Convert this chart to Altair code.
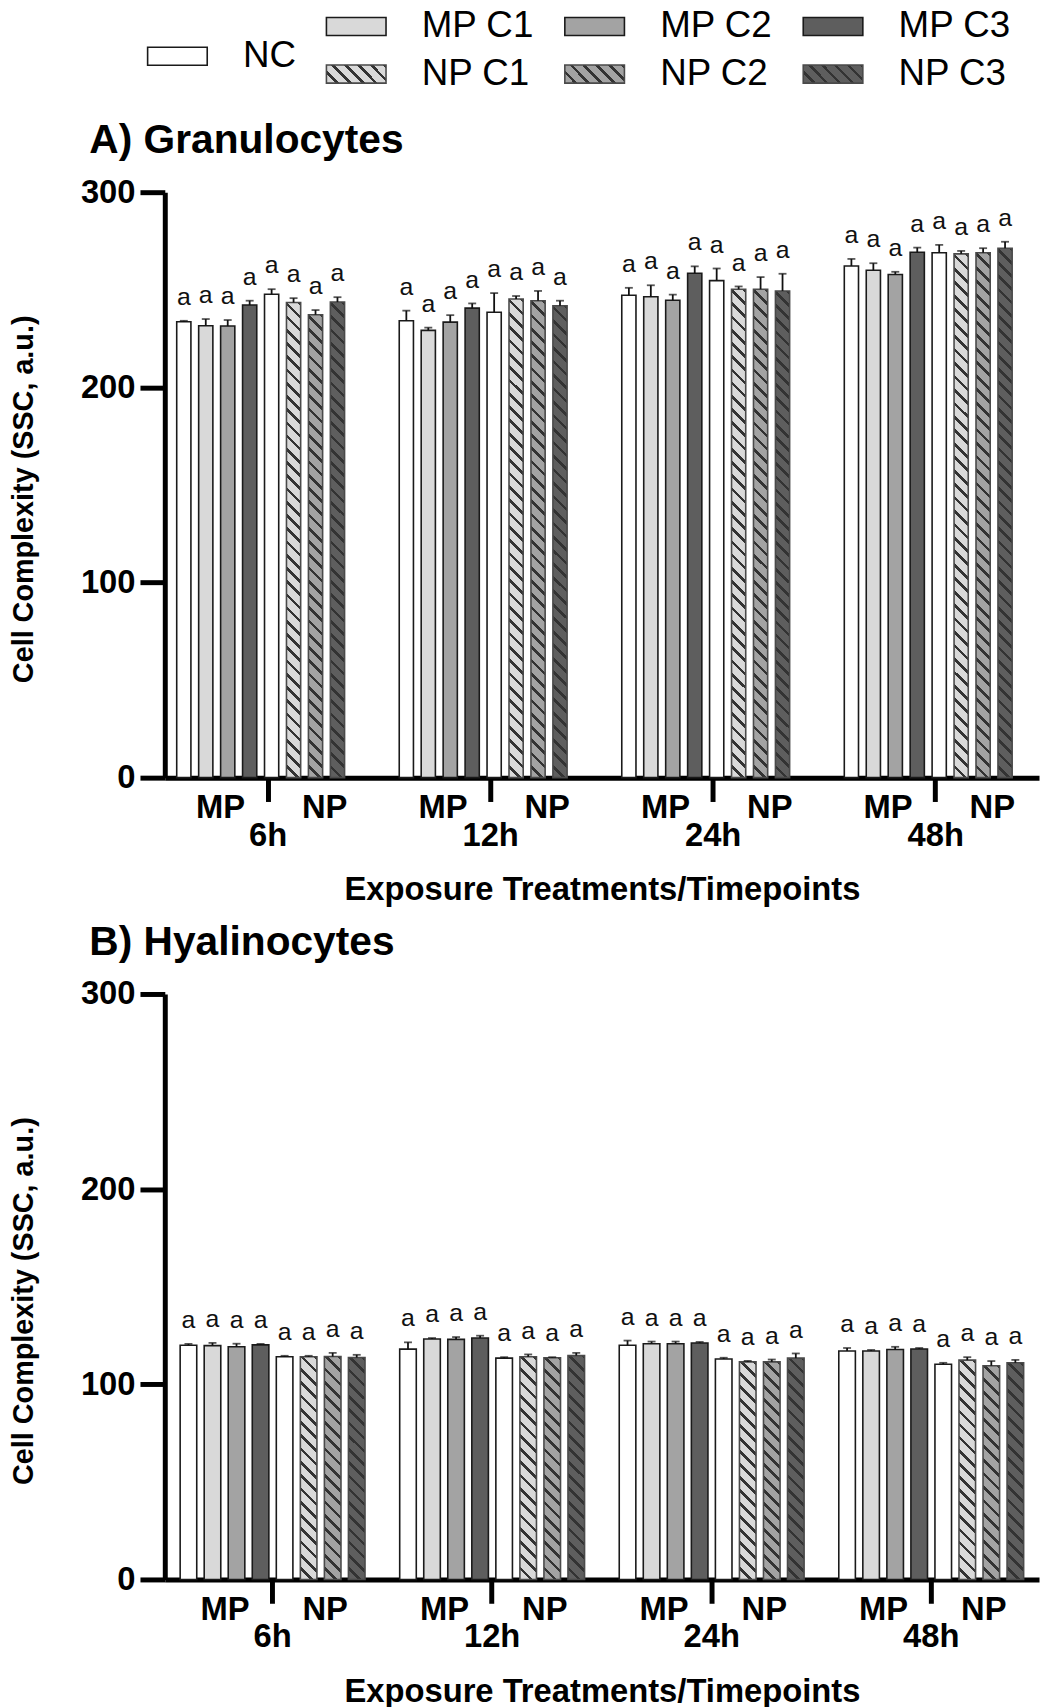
import math
import altair as alt
import pandas as pd

# ---------------- data ----------------
timepoints = ["6h", "12h", "24h", "48h"]
slots = ["MP NC", "MP C1", "MP C2", "MP C3", "NP NC", "NP C1", "NP C2", "NP C3"]
slot_conc = ["NC", "C1", "C2", "C3", "NC", "C1", "C2", "C3"]
slot_particle = ["MP", "MP", "MP", "MP", "NP", "NP", "NP", "NP"]
letters = ["a"] * 8

# A) Granulocytes: mean and upper SD (SSC, a.u.)
gran_6h = [233.6, 231.6, 231.4, 242.2, 247.7, 243.5, 237.2, 243.7]
gran_6h_sd = [0.5, 3.4, 3.1, 2.2, 2.6, 2.2, 2.4, 2.5]
gran_12h = [234.1, 229.2, 233.4, 240.6, 238.5, 245.3, 244.4, 241.8]
gran_12h_sd = [5.2, 1.4, 3.6, 2.4, 9.8, 1.5, 5.0, 2.6]
gran_24h = [247.2, 246.4, 244.6, 258.5, 254.7, 250.3, 250.3, 249.4]
gran_24h_sd = [3.8, 5.9, 2.9, 3.5, 6.2, 1.4, 6.2, 8.8]
gran_48h = [262.2, 260.0, 257.8, 269.2, 269.0, 268.4, 269.0, 271.3]
gran_48h_sd = [3.6, 3.6, 1.4, 2.4, 4.0, 1.5, 2.3, 3.3]

# B) Hyalinocytes
hyal_6h = [120.0, 119.8, 119.2, 120.2, 114.1, 114.1, 114.2, 113.7]
hyal_6h_sd = [0.7, 1.4, 1.6, 0.5, 0.5, 0.5, 1.9, 1.4]
hyal_12h = [118.0, 123.2, 123.0, 123.7, 113.4, 114.1, 113.6, 114.7]
hyal_12h_sd = [3.5, 0.5, 1.2, 1.2, 0.5, 1.2, 0.3, 1.4]
hyal_24h = [120.0, 120.8, 120.8, 121.2, 113.0, 111.5, 111.5, 113.4]
hyal_24h_sd = [2.4, 1.1, 1.1, 0.5, 0.6, 0.5, 1.2, 2.4]
hyal_48h = [117.1, 117.1, 117.8, 118.1, 110.3, 112.4, 109.5, 111.0]
hyal_48h_sd = [1.5, 0.5, 1.4, 0.5, 0.7, 1.5, 2.4, 1.5]

legend_labels = ["NC", "MP C1", "MP C2", "MP C3", "NP C1", "NP C2", "NP C3"]
legend_conc = ["NC", "C1", "C2", "C3", "C1", "C2", "C3"]
legend_hatched = [False, False, False, False, True, True, True]

# ---------------- style ----------------
FONT = "Liberation Sans"
PLOT_W = 881
PLOT_H = 590
Y_MAX = 300
conc_colors = {"NC": "#ffffff", "C1": "#d9d9d9", "C2": "#a3a3a3", "C3": "#5e5e5e"}
HATCH_LINE = "#333333"


def hatch(bg, line, w, h, period=9.5, frac=0.28):
    """Linear gradient with hard stops that draws '\\' diagonal stripes."""
    h = max(h, 1.0)
    diag = (w + h) / math.sqrt(2)
    n = max(1, int(round(diag / period)))
    t = (w + h) / (w * w + h * h)
    stops = []
    for k in range(n):
        a = k / n
        b = (k + 1 - frac) / n
        c = (k + 1) / n
        stops += [
            {"offset": a, "color": bg},
            {"offset": b, "color": bg},
            {"offset": b, "color": line},
            {"offset": c, "color": line},
        ]
    return {"gradient": "linear", "x1": 0, "y1": 1, "x2": t * w, "y2": 1 - t * h,
            "stops": stops}


def panel_frame(means, sds, bar_w):
    rows = []
    for tp, m_list, s_list in zip(timepoints, means, sds):
        for i, slot in enumerate(slots):
            m, s = m_list[i], s_list[i]
            c, p = slot_conc[i], slot_particle[i]
            hatched = p == "NP" and c != "NC"
            fill = hatch(conc_colors[c], HATCH_LINE, bar_w, m / Y_MAX * PLOT_H) if hatched else conc_colors[c]
            rows.append({
                "time": tp, "slot": slot, "mean": m, "hi": m + s,
                "fill": fill, "stroke": "#4a4a4a" if hatched else "#1a1a1a",
                "letter": letters[i],
            })
    return pd.DataFrame(rows)


def make_panel(df, title, xs, xos, mp_dx, np_dx):
    x_enc = alt.X("time:N", sort=timepoints, scale=xs,
                  axis=alt.Axis(title="Exposure Treatments/Timepoints", labelAngle=0,
                                labelFontSize=33, labelFontWeight="bold", labelBaseline="alphabetic",
                                labelPadding=44, tickSize=24, tickWidth=5, tickColor="black",
                                domainWidth=5, domainColor="black", labelColor="black",
                                titleFontSize=33, titleFontWeight="bold", titleColor="black",
                                titleY=123, titleBaseline="alphabetic"))
    xo_enc = alt.XOffset("slot:N", sort=slots, scale=xos)
    y_enc = alt.Y("mean:Q", scale=alt.Scale(domain=[0, Y_MAX], nice=False, zero=True),
                  axis=alt.Axis(values=[0, 100, 200, 300], title="Cell Complexity (SSC, a.u.)",
                                grid=False, labelFontSize=33, labelFontWeight="bold",
                                labelColor="black", labelPadding=5, tickSize=25, tickWidth=5,
                                tickColor="black", domainWidth=5, domainColor="black",
                                titleFontSize=29, titleFontWeight="bold", titleColor="black",
                                titleX=-142, titleY=309, titleBaseline="middle"))

    base = alt.Chart(df)
    xs_plain = alt.X("time:N", sort=timepoints)
    xo_plain = alt.XOffset("slot:N", sort=slots)
    bars = base.mark_bar(strokeWidth=1.6).encode(
        x=x_enc, xOffset=xo_enc, y=y_enc,
        fill=alt.Fill("fill:N", scale=None),
        stroke=alt.Stroke("stroke:N", scale=None),
    )
    err = base.mark_rule(color="#111111", strokeWidth=1.8).encode(
        x=xs_plain, xOffset=xo_plain, y="mean:Q", y2="hi:Q",
    )
    caps = base.mark_tick(color="#111111", orient="horizontal", size=8, thickness=1.8).encode(
        x=xs_plain, xOffset=xo_plain, y="hi:Q",
    )
    lett = base.mark_text(fontSize=25, baseline="alphabetic", dy=-16, color="#111111").encode(
        x=xs_plain, xOffset=xo_plain, y="hi:Q", text="letter:N",
    )
    lab_df = pd.DataFrame({"time": timepoints})
    mp_lab = alt.Chart(lab_df).mark_text(
        text="MP", fontSize=33, fontWeight="bold", baseline="middle", dx=mp_dx, color="black"
    ).encode(x=xs_plain, y=alt.value(PLOT_H + 31))
    np_lab = alt.Chart(lab_df).mark_text(
        text="NP", fontSize=33, fontWeight="bold", baseline="middle", dx=np_dx, color="black"
    ).encode(x=xs_plain, y=alt.value(PLOT_H + 31))
    return alt.layer(bars, err, caps, lett, mp_lab, np_lab).properties(
        width=PLOT_W, height=PLOT_H,
        title=alt.TitleParams(text=title, anchor="start", frame="group", dx=-76, offset=-18,
                              fontSize=41, fontWeight="bold", baseline="alphabetic",
                              color="black", font=FONT),
    )


# panel A: narrower bars, packed to the left of each timepoint tick
xs_a = alt.Scale(domain=timepoints, paddingInner=0.1786, paddingOuter=0.0536)
xos_a = alt.Scale(domain=slots, paddingInner=0.353, paddingOuter=0.34, align=0)
# panel B: wider bars centred on each timepoint tick
xs_b = alt.Scale(domain=timepoints, paddingInner=0.158, paddingOuter=0.07)
xos_b = alt.Scale(domain=slots, paddingInner=0.31, paddingOuter=0.0, align=0.5)

gran_df = panel_frame([gran_6h, gran_12h, gran_24h, gran_48h],
                      [gran_6h_sd, gran_12h_sd, gran_24h_sd, gran_48h_sd], 14.3)
hyal_df = panel_frame([hyal_6h, hyal_12h, hyal_24h, hyal_48h],
                      [hyal_6h_sd, hyal_12h_sd, hyal_24h_sd, hyal_48h_sd], 16.7)

panel_a = make_panel(gran_df, "A) Granulocytes", xs_a, xos_a, -48, 57)
panel_b = make_panel(hyal_df, "B) Hyalinocytes", xs_b, xos_b, -48, 53)

# ---------------- legend ----------------
ROW_GAP = 48
LEG_H = 79
leg_rows = []
for lab, c, h in zip(legend_labels, legend_conc, legend_hatched):
    col = 0.25 if lab == "NC" else float(lab[-1])
    row = 0.625 if lab == "NC" else (1.0 if lab.startswith("NP") else 0.0)
    fill = hatch(conc_colors[c], HATCH_LINE, 60, 18, period=9.5) if h else conc_colors[c]
    leg_rows.append({"label": lab, "col": col, "row": row, "fill": fill,
                     "stroke": "#4a4a4a" if h else "#1a1a1a"})
leg_df = pd.DataFrame(leg_rows)

lx = alt.Scale(domain=[0.322, 3.989], nice=False, zero=False)
ly = alt.Scale(domain=[0, LEG_H / ROW_GAP], reverse=True, nice=False, zero=False)
leg_base = alt.Chart(leg_df).transform_calculate(
    x2="datum.col + 0.25", y1="datum.row - 0.19", y2="datum.row + 0.19", tx="datum.col + 0.40"
)
leg_sw = leg_base.mark_rect(strokeWidth=1.6).encode(
    x=alt.X("col:Q", scale=lx, axis=None), x2="x2:Q",
    y=alt.Y("y1:Q", scale=ly, axis=None), y2="y2:Q",
    fill=alt.Fill("fill:N", scale=None), stroke=alt.Stroke("stroke:N", scale=None),
)
leg_tx = leg_base.mark_text(align="left", baseline="middle", fontSize=37, color="black").encode(
    x=alt.X("tx:Q", scale=lx, axis=None), y=alt.Y("row:Q", scale=ly, axis=None), text="label:N",
)
legend = alt.layer(leg_sw, leg_tx).properties(width=PLOT_W, height=LEG_H)

chart = alt.vconcat(legend, panel_a, panel_b, spacing=16).resolve_scale(
    x="independent", y="independent", xOffset="independent"
).properties(
    padding={"left": 2, "top": -7, "right": 2, "bottom": 2}
).configure(font=FONT).configure_view(strokeWidth=0)

chart.save("out.html", embed_options={"renderer": "svg", "actions": False})
